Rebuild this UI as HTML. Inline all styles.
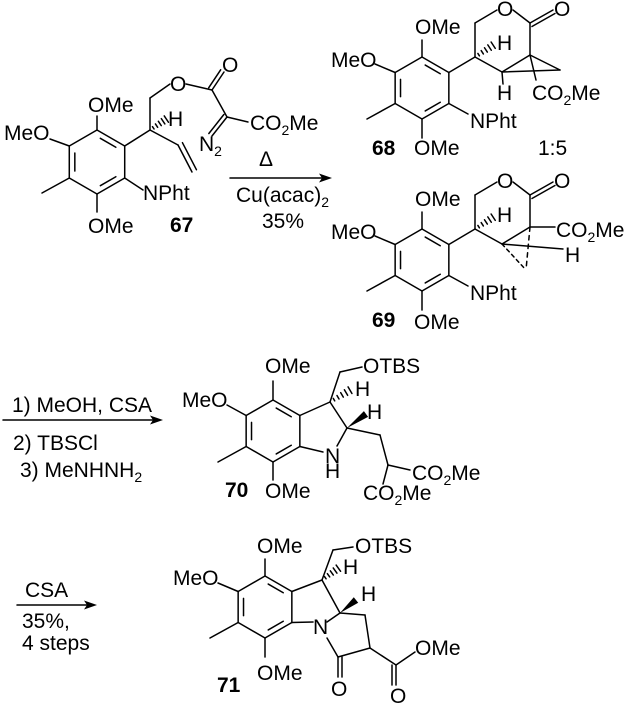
<!DOCTYPE html>
<html><head><meta charset="utf-8"><style>
html,body{margin:0;padding:0;background:#fff}
svg{display:block}
text{font-family:"Liberation Sans",Arial,sans-serif;font-size:21px;fill:#000}
.b{font-weight:bold}
line{stroke:#000;stroke-width:1.5;stroke-linecap:round}
</style></head><body>
<svg id="s" width="633" height="709" viewBox="0 0 633 709" xmlns="http://www.w3.org/2000/svg">
<g id="g"></g>
<!-- 67 -->
<text x="88" y="112">OMe</text>
<text x="4" y="140">MeO</text>
<text x="143" y="200">NPht</text>
<text x="88" y="233">OMe</text>
<text class="b" x="170" y="232">67</text>
<text x="170" y="91">O</text>
<text x="222" y="72">O</text>
<text x="168" y="126">H</text>
<text x="250" y="130">CO<tspan font-size="14" dy="5">2</tspan><tspan dy="-5">Me</tspan></text>
<text x="199" y="151">N<tspan font-size="14" dy="5">2</tspan></text>
<text x="259" y="166">Δ</text>
<text x="236" y="202">Cu(acac)<tspan font-size="14" dy="5">2</tspan></text>
<text x="262" y="228">35%</text>
<!-- 68 -->
<text x="415" y="34">OMe</text>
<text x="331" y="67">MeO</text>
<text x="470" y="128">NPht</text>
<text x="414" y="155">OMe</text>
<text class="b" x="372" y="155">68</text>
<text x="538" y="155">1:5</text>
<text x="497" y="16">O</text>
<text x="554" y="16">O</text>
<text x="497" y="50">H</text>
<text x="497" y="100">H</text>
<text x="532" y="100">CO<tspan font-size="14" dy="5">2</tspan><tspan dy="-5">Me</tspan></text>
<!-- 69 -->
<text x="415" y="206">OMe</text>
<text x="331" y="239">MeO</text>
<text x="470" y="300">NPht</text>
<text x="414" y="329">OMe</text>
<text class="b" x="372" y="327">69</text>
<text x="497" y="188">O</text>
<text x="554" y="188">O</text>
<text x="497" y="222">H</text>
<text x="556" y="237">CO<tspan font-size="14" dy="5">2</tspan><tspan dy="-5">Me</tspan></text>
<text x="565" y="262">H</text>
<!-- arrow 2 -->
<text x="12" y="412">1) MeOH, CSA</text>
<text x="13" y="450">2) TBSCl</text>
<text x="20" y="477">3) MeNHNH<tspan font-size="14" dy="5">2</tspan></text>
<!-- 70 -->
<text x="265" y="373">OMe</text>
<text x="182" y="407">MeO</text>
<text x="265" y="498">OMe</text>
<text class="b" x="225" y="497">70</text>
<text x="325" y="463">N</text>
<text x="325" y="478">H</text>
<text x="363" y="373">OTBS</text>
<text x="355" y="396">H</text>
<text x="367" y="419">H</text>
<text x="412" y="480">CO<tspan font-size="14" dy="5">2</tspan><tspan dy="-5">Me</tspan></text>
<text x="363" y="500">CO<tspan font-size="14" dy="5">2</tspan><tspan dy="-5">Me</tspan></text>
<!-- arrow 3 -->
<text x="25" y="597">CSA</text>
<text x="22" y="628">35%,</text>
<text x="22" y="650">4 steps</text>
<!-- 71 -->
<text x="257" y="553">OMe</text>
<text x="173" y="585">MeO</text>
<text x="257" y="680">OMe</text>
<text class="b" x="217" y="692">71</text>
<text x="313" y="634">N</text>
<text x="355" y="553">OTBS</text>
<text x="343" y="574">H</text>
<text x="361" y="601">H</text>
<text x="331" y="696">O</text>
<text x="390" y="703">O</text>
<text x="415" y="655">OMe</text>
</svg>
<script>
var g=document.getElementById('g'),NS="http://www.w3.org/2000/svg";
function L(a,b,c,d){var e=document.createElementNS(NS,'line');e.setAttribute('x1',a);e.setAttribute('y1',b);e.setAttribute('x2',c);e.setAttribute('y2',d);g.appendChild(e);}
function P(pts){var e=document.createElementNS(NS,'polygon');e.setAttribute('points',pts);g.appendChild(e);}
function ring(cx,cy,r){var v=[];for(var i=0;i<6;i++){var a=(-90+60*i)*Math.PI/180;v.push([cx+r*Math.cos(a),cy+r*Math.sin(a)]);}
for(i=0;i<6;i++){var p=v[i],q=v[(i+1)%6];L(p[0],p[1],q[0],q[1]);}
[[0,1],[2,3],[4,5]].forEach(function(e){var p=v[e[0]],q=v[e[1]],f=0.8;
var p1=[cx+(p[0]-cx)*f,cy+(p[1]-cy)*f],q1=[cx+(q[0]-cx)*f,cy+(q[1]-cy)*f];
var t=0.15;L(p1[0]+(q1[0]-p1[0])*t,p1[1]+(q1[1]-p1[1])*t,q1[0]+(p1[0]-q1[0])*t,q1[1]+(p1[1]-q1[1])*t);});return v;}
function dbl(a,b,c,d,o){var dx=c-a,dy=d-b,l=Math.hypot(dx,dy),nx=-dy/l*o,ny=dx/l*o;L(a+nx,b+ny,c+nx,d+ny);}
function wedge(a,b,c,d){var dx=c-a,dy=d-b,l=Math.hypot(dx,dy),nx=-dy/l*3.5,ny=dx/l*3.5;P(a+','+b+' '+(c+nx)+','+(d+ny)+' '+(c-nx)+','+(d-ny));}
function hash(a,b,c,d){var dx=c-a,dy=d-b,l=Math.hypot(dx,dy),nx=-dy/l,ny=dx/l;for(var k=1;k<=5;k++){var t=k/5.5,w=0.8+k*0.6;var x=a+dx*t,y=b+dy*t;L(x-nx*w,y-ny*w,x+nx*w,y+ny*w);}}
function dash(a,b,c,d){var n=5;for(var k=0;k<n;k++){var t1=k/n,t2=(k+0.5)/n;L(a+(c-a)*t1,b+(d-b)*t1,a+(c-a)*t2,b+(d-b)*t2);}}
function arrow(x1,y,x2){L(x1,y,x2-8,y);P(x2+','+y+' '+(x2-13)+','+(y-4.5)+' '+(x2-10)+','+y+' '+(x2-13)+','+(y+4.5));}
// 67
var v=ring(97,162,32);
L(97,130,97,116);L(50,139,v[5][0],v[5][1]);L(v[4][0],v[4][1],42,193);L(97,194,97,212);L(v[2][0],v[2][1],143,190);
L(v[1][0],v[1][1],150,130);L(150,130,150,98);L(150,98,170,84);L(186,84,212,90);L(212,90,224,72);dbl(212,90,224,72,-4);
L(212,90,227,117);L(227,117,248,122);L(227,117,212,136);dbl(227,117,212,136,4);
hash(150,130,168,118);L(150,130,178,145);L(178,145,192,172);dbl(178,145,192,172,-5);
arrow(230,178,332);
// 68 and 69
[0,172].forEach(function(o){var w=ring(422,88+o,31);
L(422,57+o,422,40+o);L(375,64+o,w[5][0],w[5][1]);L(w[4][0],w[4][1],367,119+o);L(422,119+o,422,138+o);L(w[2][0],w[2][1],468,114+o);
L(w[1][0],w[1][1],475,57+o);L(475,57+o,475,23+o);L(475,23+o,497,10+o);L(513,10+o,530,23+o);L(530,23+o,553,10+o);dbl(530,23+o,553,10+o,4);
L(530,23+o,530,55+o);L(475,57+o,502,72+o);L(502,72+o,530,55+o);hash(475,57+o,495,44+o);});
L(530,55,560,70);L(502,72,560,70);L(502,72,503,84);L(530,55,536,80);
L(530,227,555,227);L(502,244,563,249);dash(530,227,526,270);dash(502,244,526,270);
// arrow 2
arrow(3,420,163);
// 70
var u=ring(273,431,31);
L(273,400,273,381);L(227,405,u[5][0],u[5][1]);L(u[4][0],u[4][1],218,462);L(273,462,273,480);
L(u[1][0],u[1][1],330,402);L(330,402,347,428);L(347,428,337,446);L(u[2][0],u[2][1],323,452);
L(330,402,340,372);L(340,372,362,367);hash(330,402,352,389);wedge(347,428,366,414);
L(347,428,380,435);L(380,435,388,465);L(388,465,410,470);L(388,465,383,484);
// arrow 3
arrow(17,605,97);
// 71
var z=ring(265,607,31);
L(265,576,265,559);L(218,583,z[5][0],z[5][1]);L(z[4][0],z[4][1],210,638);L(265,638,265,657);
L(z[1][0],z[1][1],322,580);L(322,580,340,613);L(340,613,327,622);L(z[2][0],z[2][1],313,622);
L(327,638,338,657);L(338,657,338,677);dbl(338,657,338,677,-4);L(338,657,370,648);L(370,648,365,615);L(365,615,340,613);
L(370,648,396,665);L(396,665,396,685);dbl(396,665,396,685,4);L(396,665,415,652);
L(322,580,333,550);L(333,550,353,547);hash(322,580,340,567);wedge(340,613,356,600);
</script>
</body></html>
